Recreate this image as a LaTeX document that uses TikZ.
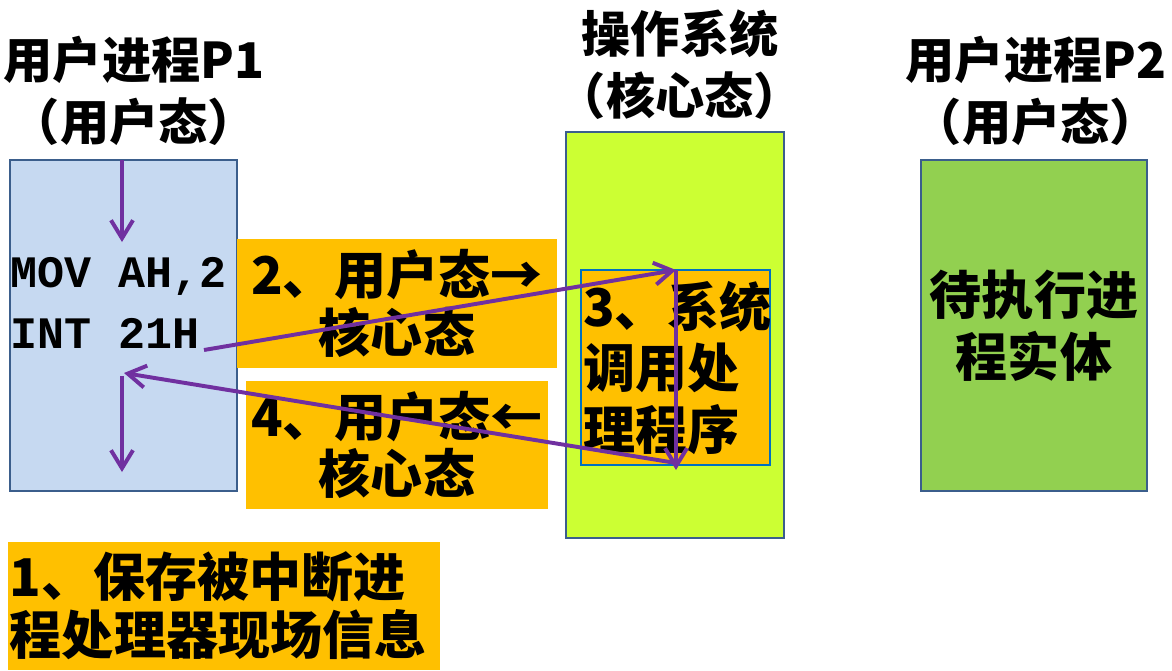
\documentclass[tikz,border=0pt]{standalone}
\usepackage{fontspec}
\usepackage{tikz}
\usetikzlibrary{positioning,arrows.meta}
\newfontfamily\cjk{Noto Sans CJK SC}
\setmonofont{Liberation Mono}
\definecolor{procblue}{HTML}{C6D9F1}
\definecolor{edgeblue}{HTML}{3B5E8C}
\definecolor{oslime}{HTML}{CCFF33}
\definecolor{waitgreen}{HTML}{92D050}
\definecolor{notegold}{HTML}{FFC000}
\definecolor{innerblue}{HTML}{0070C0}
\definecolor{flowpurple}{HTML}{7030A0}

\begin{document}
\begin{tikzpicture}[
    x=0.025cm, y=-0.025cm,
    every node/.style={inner sep=0pt, font=\cjk\bfseries\fontsize{37}{44}\selectfont},
    procbox/.style={draw=edgeblue, line width=1.5pt},
    notebox/.style={fill=notegold, align=center, font=\cjk\bfseries\fontsize{37}{41}\selectfont},
    title/.style={align=center, font=\cjk\bfseries\fontsize{35}{44}\selectfont},
    flow/.style={draw=flowpurple, line width=2.8pt, -{Straight Barb[length=4.5mm,width=5.5mm]}}
]
    \useasboundingbox (0,0) rectangle (1172,671);

    % process and system boxes
    \node[procbox, fill=procblue, minimum width=5.675cm, minimum height=8.275cm] (p1) at (123.5,325.5) {};
    \node[procbox, fill=oslime, minimum width=5.45cm, minimum height=10.15cm] (os) at (675,335) {};
    \node[draw=innerblue, line width=1.5pt, fill=notegold, minimum width=4.725cm, minimum height=4.875cm] (handler) at (675.5,367.5) {};
    \node[procbox, fill=waitgreen, minimum width=5.65cm, minimum height=8.275cm, align=center] (p2) at (1034,325.5) {待执行进\\程实体};

    % titles
    \node[title] (p1title) at (134,91) {用户进程P1\\（用户态）};
    \node[title] (ostitle) at (680,65) {操作系统\\（核心态）};
    \node[title] (p2title) at (1036,91) {用户进程P2\\（用户态）};

    % code and handler text
    \node[anchor=west, align=left, font=\ttfamily\bfseries\fontsize{32}{43}\selectfont] (code) at (10,303) {MOV AH,2\\ INT 21H};
    \node[anchor=west, align=left] (handlertext) at (583,368) {3、系统\\调用处\\理程序};

    % step notes
    \node[notebox, minimum width=8cm, minimum height=3.225cm] (tokernel) at (397,303.5) {2、用户态→\\核心态};
    \node[notebox, minimum width=7.55cm, minimum height=3.2cm] (touser) at (397,445) {4、用户态←\\核心态};
    \node[notebox, align=left, text width=10.7cm, inner xsep=0.05cm, minimum height=3.2cm] (save) at (224,606) {1、保存被中断进\\程处理器现场信息};

    % flow of control
    \coordinate (movtop) at (122,160);
    \coordinate (movin) at (122,242);
    \coordinate (intend) at (204,350);
    \coordinate (hstart) at (676,270);
    \coordinate (hend) at (676,470);
    \coordinate (hback) at (676,463);
    \coordinate (ret) at (124,373);
    \coordinate (retout) at (122,376);
    \coordinate (next) at (122,472);

    \draw[flow] (movtop) -- (movin);
    \draw[flow] (intend) -- (hstart);
    \draw[flow] (hstart) -- (hend);
    \draw[flow] (hback) -- (ret);
    \draw[flow] (retout) -- (next);
\end{tikzpicture}
\end{document}
